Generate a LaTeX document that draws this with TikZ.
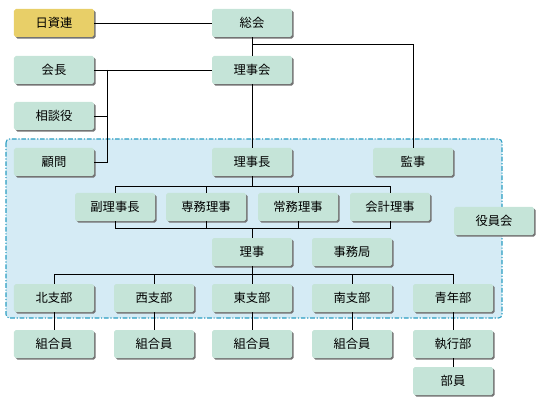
\documentclass[tikz,border=0pt]{standalone}
\usepackage{fontspec}
\setmainfont{Noto Sans CJK JP}
\usetikzlibrary{shadows}

\definecolor{boxgreen}{HTML}{C5E4D8}
\definecolor{boxyellow}{HTML}{E8CF68}
\definecolor{areafill}{HTML}{D5EBF5}
\definecolor{arealine}{HTML}{2A9DC2}

\begin{document}
\begin{tikzpicture}[
        x=0.03cm, y=-0.03cm,
        box/.style={rectangle, fill=boxgreen, rounded corners=1.5pt, minimum width=2.4cm, minimum height=0.84cm,
            font=\fontsize{10.5}{12}\selectfont,
            drop shadow={shadow xshift=1.3pt, shadow yshift=-1.3pt, fill=black!55, opacity=1}},
        topbox/.style={box, fill=boxyellow},
        link/.style={draw, line width=0.6pt},
        area/.style={draw=arealine, fill=areafill, line width=0.9pt, rounded corners=3pt,
            dash pattern=on 4pt off 1.5pt on 1pt off 1.5pt}
    ]
    \useasboundingbox (0,0) rectangle (545,403);

    % shaded area of the board
    \path[area] (6,139) rectangle (502,318);

    \node[topbox] (nisshiren) at (54,23) {日資連};
    \node[box] (soukai) at (252,23) {総会};
    \node[box] (kaichou) at (54,70) {会長};
    \node[box] (rijikai) at (252,70) {理事会};
    \node[box] (soudan) at (54,116) {相談役};
    \node[box] (komon) at (54,162) {顧問};
    \node[box] (rijichou) at (252,162) {理事長};
    \node[box] (kanji) at (413,162) {監事};

    \node[box] (fuku) at (115,207) {副理事長};
    \node[box] (senmu) at (206,207) {専務理事};
    \node[box] (joumu) at (298,207) {常務理事};
    \node[box] (kaikei) at (390,207) {会計理事};
    \node[box] (yakuin) at (494,221) {役員会};

    \node[box] (riji) at (252,252) {理事};
    \node[box] (jimu) at (352,252) {事務局};

    \node[box] (kita) at (54,298) {北支部};
    \node[box] (nishi) at (154,298) {西支部};
    \node[box] (higashi) at (252,298) {東支部};
    \node[box] (minami) at (352,298) {南支部};
    \node[box] (seinen) at (453,298) {青年部};

    \node[box] (kumi1) at (54,344) {組合員};
    \node[box] (kumi2) at (154,344) {組合員};
    \node[box] (kumi3) at (252,344) {組合員};
    \node[box] (kumi4) at (352,344) {組合員};
    \node[box] (shikkou) at (453,344) {執行部};
    \node[box] (buin) at (453,381) {部員};

    \coordinate (kj) at (107,70);
    \coordinate (bar1) at (252,186);
    \coordinate (bar2) at (252,228);
    \coordinate (bar3) at (252,274);

    \draw[link] (nisshiren) -- (soukai);
    \draw[link] (soukai) -- (rijikai);
    \draw[link] (soukai.south |- 0,44) -| (kanji);
    \draw[link] (kaichou) -- (rijikai);
    \draw[link] (kj) |- (komon);
    \draw[link] (soudan) -- (soudan -| kj);
    \draw[link] (rijikai) -- (rijichou);

    \draw[link] (rijichou) -- (bar1);
    \foreach \n in {fuku, senmu, joumu, kaikei} {
        \draw[link] (\n) |- (bar1);
        \draw[link] (\n) |- (bar2);
    }
    \draw[link] (bar2) -- (riji);

    \draw[link] (riji) -- (bar3);
    \foreach \n in {kita, nishi, higashi, minami, seinen}
        \draw[link] (\n) |- (bar3);

    \draw[link] (kita) -- (kumi1);
    \draw[link] (nishi) -- (kumi2);
    \draw[link] (higashi) -- (kumi3);
    \draw[link] (minami) -- (kumi4);
    \draw[link] (seinen) -- (shikkou);
    \draw[link] (shikkou) -- (buin);
\end{tikzpicture}
\end{document}
